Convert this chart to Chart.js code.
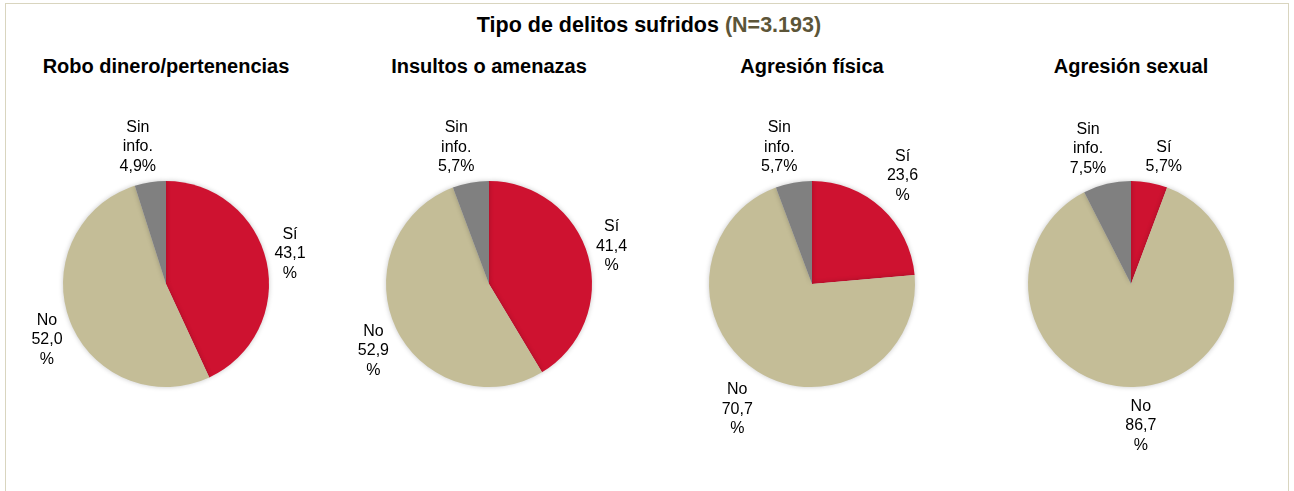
<!DOCTYPE html>
<html>
<head>
<meta charset="utf-8">
<script src="https://cdn.jsdelivr.net/npm/chart.js@4.4.1/dist/chart.umd.min.js"></script>
<style>
  html, body { margin: 0; padding: 0; background: #fff; }
  body { width: 1294px; height: 491px; position: relative; overflow: hidden; font-family: "Liberation Sans", Arial, sans-serif; }
  #frame { position: absolute; left: 5px; top: 3px; width: 1284px; height: 500px; border: 1px solid #D9D5BF; box-sizing: border-box; }
  #mainTitle { position: absolute; left: 2px; width: 1294px; top: 13px; line-height: 24px; text-align: center; font-weight: bold; font-size: 21.5px; color: #000; }
  #mainTitle span { color: #5C5538; }
  .sub { position: absolute; top: 54px; width: 320px; line-height: 24px; text-align: center; font-weight: bold; font-size: 20px; color: #000; white-space: nowrap; }
  canvas.pie { position: absolute; }
</style>
</head>
<body>
<div id="frame"></div>
<div id="mainTitle"></div>
<div id="subs"></div>
<div id="pies"></div>
<script>
// ---- Data ----
const mainTitle = "Tipo de delitos sufridos";
const mainTitleN = "(N=3.193)";
const chartTitles = ["Robo dinero/pertenencias", "Insultos o amenazas", "Agresión física", "Agresión sexual"];
const categories = ["Sí", "No", "Sin info."];
const siValues = [43.1, 41.4, 23.6, 5.7];
const noValues = [52.0, 52.9, 70.7, 86.7];
const sinInfoValues = [4.9, 5.7, 5.7, 7.5];
const colors = ["#CE1230", "#C4BD97", "#808080"];

// ---- Layout ----
const centersX = [166, 489, 812, 1131];
const centerY = 284;
const CW = 320, CH = 360;

document.getElementById('mainTitle').innerHTML = mainTitle + ' <span>' + mainTitleN + '</span>';

function fmt(v) { return v.toFixed(1).replace('.', ','); }
function labelLines(name, v) {
  const lines = name.split(' ');
  if (v >= 10) { lines.push(fmt(v)); lines.push('%'); }
  else { lines.push(fmt(v) + '%'); }
  return lines;
}

const labelPlugin = {
  id: 'outLabels',
  afterDatasetsDraw(chart) {
    const ctx = chart.ctx;
    const meta = chart.getDatasetMeta(0);
    const data = chart.data.datasets[0].data;
    ctx.save();
    ctx.font = '16px "Liberation Sans", Arial, sans-serif';
    ctx.fillStyle = '#000';
    ctx.textAlign = 'center';
    ctx.textBaseline = 'middle';
    const lh = 19.5;
    meta.data.forEach((arc, i) => {
      const p = arc.getProps(['x', 'y', 'startAngle', 'endAngle', 'outerRadius'], true);
      const mid = (p.startAngle + p.endAngle) / 2;
      const dx = Math.cos(mid), dy = Math.sin(mid);
      const lines = labelLines(chart.data.labels[i], data[i]);
      const w = Math.max(...lines.map(l => ctx.measureText(l).width));
      const h = lines.length * lh;
      const ax = p.x + (p.outerRadius + 8) * dx;
      const ay = p.y + (p.outerRadius + 8) * dy;
      const fx = Math.sign(dx) * Math.min(1, Math.abs(dx) * 4);
      const fy = Math.sign(dy) * Math.min(1, Math.abs(dy) * 1.3);
      const cx = ax + fx * w / 2;
      const cy = ay + fy * h / 2 + 2;
      lines.forEach((l, k) => {
        ctx.fillText(l, cx, cy - h / 2 + lh * (k + 0.5));
      });
    });
    ctx.restore();
  }
};

const shadowPlugin = {
  id: 'pieShadow',
  beforeDatasetsDraw(chart) {
    const ctx = chart.ctx;
    ctx.save();
    ctx.shadowColor = 'rgba(0,0,0,0.22)';
    ctx.shadowBlur = 5;
    ctx.shadowOffsetX = 0;
    ctx.shadowOffsetY = 0;
  },
  afterDatasetsDraw(chart) {
    chart.ctx.restore();
  }
};

const subs = document.getElementById('subs');
const pies = document.getElementById('pies');
chartTitles.forEach((t, i) => {
  const d = document.createElement('div');
  d.className = 'sub';
  d.style.left = (centersX[i] - CW / 2) + 'px';
  d.textContent = t;
  subs.appendChild(d);

  const c = document.createElement('canvas');
  c.className = 'pie';
  c.style.left = (centersX[i] - CW / 2) + 'px';
  c.style.top = (centerY - CH / 2) + 'px';
  c.style.width = CW + 'px';
  c.style.height = CH + 'px';
  c.width = CW; c.height = CH;
  pies.appendChild(c);

  new Chart(c, {
    type: 'pie',
    data: {
      labels: categories,
      datasets: [{
        data: [siValues[i], noValues[i], sinInfoValues[i]],
        backgroundColor: colors,
        borderWidth: 0
      }]
    },
    options: {
      responsive: false,
      animation: false,
      radius: 103,
      layout: { padding: 0 },
      plugins: { legend: { display: false }, tooltip: { enabled: false }, title: { display: false } }
    },
    plugins: [shadowPlugin, labelPlugin]
  });
});
</script>
</body>
</html>
